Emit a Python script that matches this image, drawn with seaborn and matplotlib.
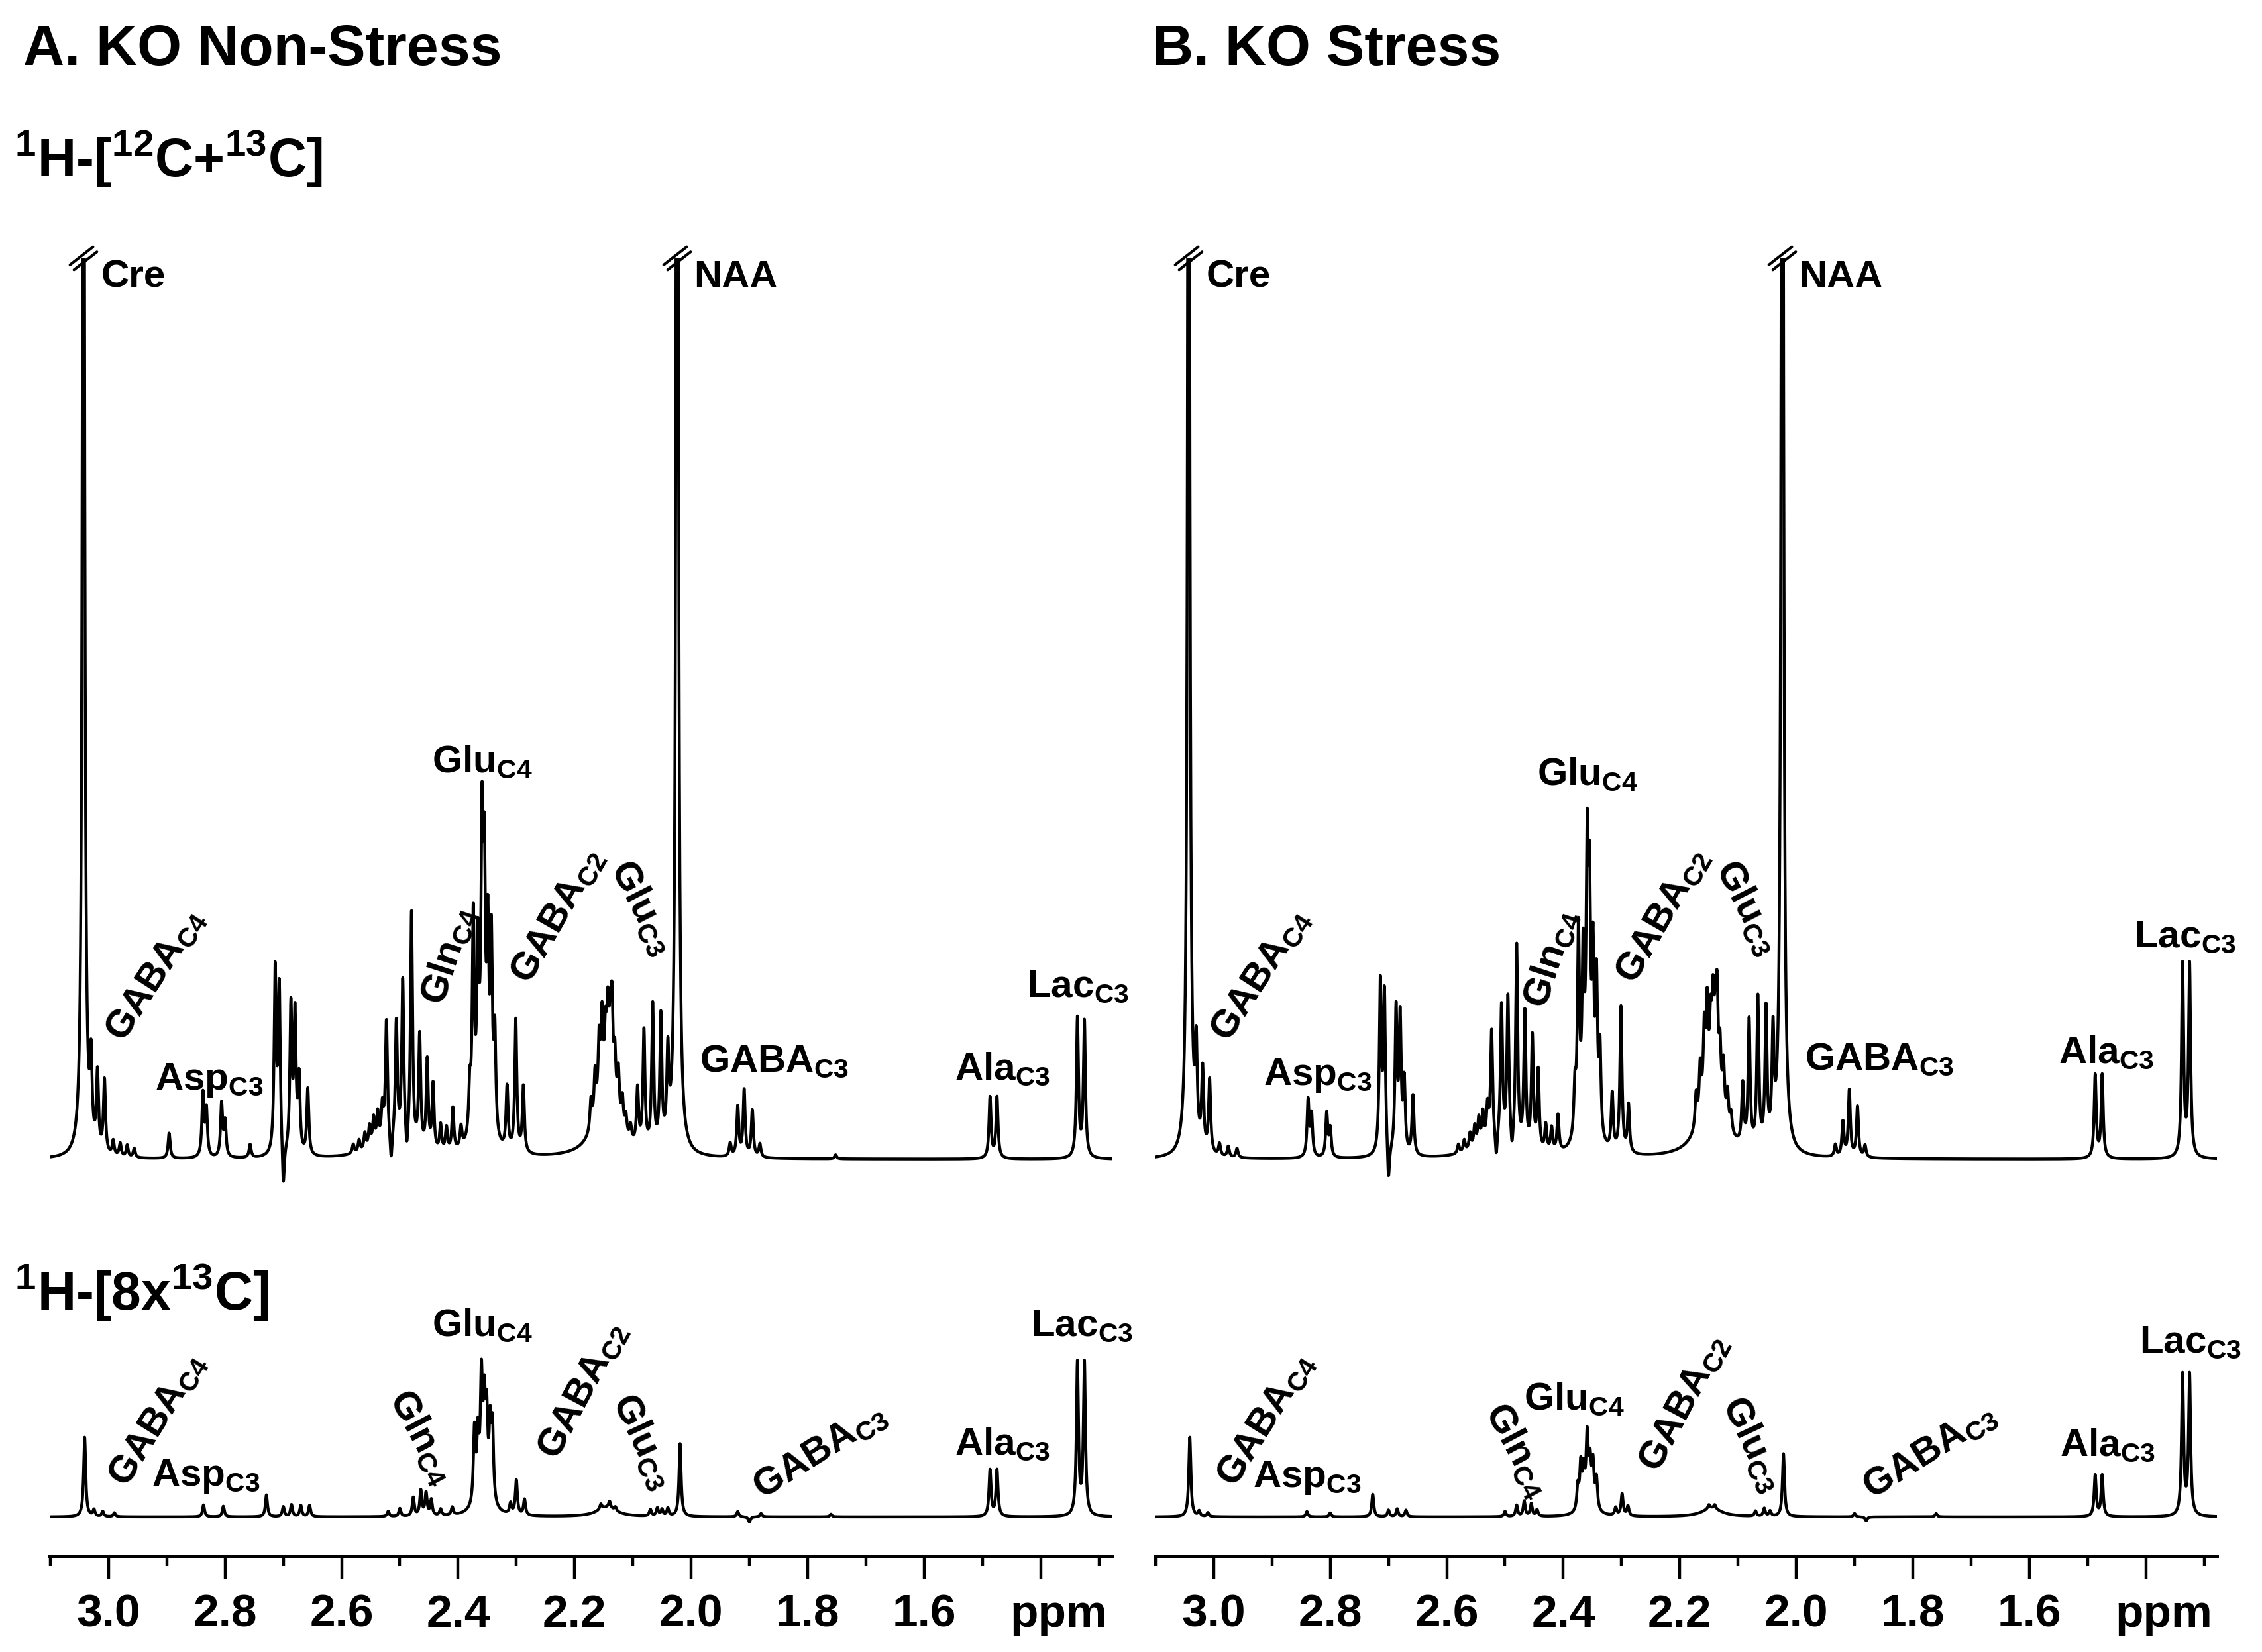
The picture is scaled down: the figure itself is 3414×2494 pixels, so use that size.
import numpy as np
import matplotlib
matplotlib.use("Agg")
import matplotlib.pyplot as plt
import seaborn as sns
from matplotlib.lines import Line2D
from matplotlib.ticker import FixedLocator, FixedFormatter, MultipleLocator
from matplotlib.transforms import ScaledTranslation

sns.set_theme(style="white")
plt.rcParams['font.family'] = ['Liberation Sans', 'DejaVu Sans']
plt.rcParams['font.weight'] = 'bold'
plt.rcParams['text.color'] = 'black'
plt.rcParams['xtick.color'] = 'black'
plt.rcParams['mathtext.fontset'] = 'custom'
for k in ('rm', 'it', 'bf', 'sf'):
    plt.rcParams['mathtext.' + k] = 'Liberation Sans:bold'
plt.rcParams['mathtext.default'] = 'rm'

# ---- peak lists (ppm, intensity in a.u.) ----
sharp_w = 0.0021  # half width of a single line, ppm

ns_total_ppm = [3.043, 3.030, 3.019, 3.007, 2.992, 2.980, 2.968, 2.956, 2.896, 2.838, 2.832, 2.806, 2.800, 2.757,
                2.714, 2.707, 2.700, 2.687, 2.680, 2.673, 2.658,
                2.580, 2.570, 2.560, 2.552, 2.545, 2.538, 2.530, 2.523, 2.515, 2.506, 2.495, 2.488, 2.480, 2.466,
                2.453, 2.443, 2.430, 2.420, 2.409, 2.395,
                2.380, 2.374, 2.366, 2.359, 2.355, 2.349, 2.343, 2.337,
                2.316, 2.301, 2.288,
                2.172, 2.165, 2.158, 2.153, 2.147, 2.143, 2.139, 2.136, 2.131, 2.125, 2.118, 2.112, 2.104,
                2.092, 2.081, 2.066, 2.052, 2.040,
                2.024,
                1.933, 1.920, 1.909, 1.895, 1.882,
                1.752,
                1.487, 1.475,
                1.337, 1.325]
ns_total_h = [2200, 120, 115, 110, 22, 20, 18, 14, 38, 95, 70, 80, 52, 20,
              275, 250, -70, 220, 205, 110, 100,
              14, 18, 25, 32, 40, 45, 50, 180, -45, 180, 245, -35, 355, 170,
              135, 100, 40, 36, 65, 32,
              70, 320, 240, 390, 330, 270, 280, 150,
              95, 200, 100,
              45, 70, 100, 120, 85, 110, 85, 130, 75, 70, 45, 28, 22,
              85, 175, 215, 195, 130,
              2500,
              20, 75, 100, 70, 20,
              6,
              92, 92,
              210, 205]
ns_total_broad = [(2.145, 90, 0.022), (2.52, 22, 0.035), (2.36, 60, 0.012)]

ns_13c_ppm = [3.041, 3.025, 3.010, 2.990, 2.837, 2.803, 2.729, 2.700, 2.686, 2.670, 2.655,
              2.520, 2.500, 2.477, 2.464, 2.455, 2.446, 2.430, 2.410,
              2.372, 2.366, 2.360, 2.355, 2.351, 2.345, 2.341,
              2.310, 2.300, 2.286,
              2.155, 2.140, 2.130,
              2.070, 2.058, 2.050, 2.040,
              2.019,
              1.920, 1.900, 1.880,
              1.760,
              1.487, 1.475,
              1.337, 1.325]
ns_13c_h = [120, 10, 8, 6, 18, 16, 33, 15, 18, 17, 17,
            8, 12, 28, 38, 34, 24, 10, 12,
            110, 90, 165, 120, 110, 105, 110,
            16, 52, 24,
            8, 10, 6,
            10, 12, 10, 12,
            110,
            8, -8, 5,
            4,
            70, 70,
            230, 230]
ns_13c_broad = [(2.145, 14, 0.02), (2.357, 35, 0.012)]

st_total_ppm = [3.043, 3.030, 3.019, 3.007, 2.990, 2.975, 2.960, 2.838, 2.832, 2.806, 2.800,
                2.714, 2.707, 2.700, 2.687, 2.680, 2.673, 2.658,
                2.580, 2.570, 2.560, 2.552, 2.545, 2.538, 2.530, 2.523, 2.515, 2.506, 2.495, 2.488, 2.480, 2.466,
                2.453, 2.443, 2.430, 2.420, 2.409,
                2.380, 2.374, 2.366, 2.359, 2.355, 2.349, 2.343, 2.337,
                2.316, 2.301, 2.288,
                2.172, 2.165, 2.158, 2.153, 2.147, 2.143, 2.139, 2.136, 2.131, 2.125, 2.118, 2.112,
                2.092, 2.081, 2.066, 2.052, 2.040,
                2.024,
                1.933, 1.920, 1.909, 1.895, 1.882,
                1.487, 1.475,
                1.337, 1.325]
st_total_h = [2200, 140, 120, 110, 18, 16, 14, 85, 62, 66, 42,
              255, 240, -60, 215, 200, 105, 90,
              14, 18, 25, 32, 40, 45, 50, 165, -40, 205, 220, -30, 305, 205,
              170, 120, 40, 36, 55,
              70, 300, 230, 360, 300, 240, 220, 130,
              85, 220, 72,
              50, 75, 110, 130, 90, 115, 90, 135, 80, 75, 50, 28,
              90, 190, 225, 205, 160,
              2500,
              18, 52, 100, 76, 18,
              125, 125,
              290, 290]
st_total_broad = [(2.145, 100, 0.022), (2.52, 22, 0.035), (2.36, 60, 0.012)]

st_13c_ppm = [3.041, 3.025, 3.010, 2.840, 2.800, 2.727, 2.700, 2.685, 2.670,
              2.500, 2.480, 2.467, 2.455, 2.445,
              2.375, 2.370, 2.365, 2.359, 2.354, 2.349, 2.343,
              2.310, 2.299, 2.289,
              2.150, 2.140,
              2.070, 2.055, 2.045,
              2.022,
              1.900, 1.880,
              1.760,
              1.487, 1.475,
              1.337, 1.325]
st_13c_h = [120, 8, 6, 8, 6, 34, 10, 12, 10,
            8, 17, 23, 19, 10,
            35, 65, 50, 95, 55, 62, 45,
            12, 33, 15,
            6, 6,
            8, 12, 8,
            95,
            5, -6,
            5,
            62, 62,
            212, 212]
st_13c_broad = [(2.145, 13, 0.02), (2.357, 22, 0.01)]

# ---- peak labels ----
top_names = ['Cre', 'NAA', 'GABA$_{C4}$', 'Asp$_{C3}$', 'Gln$_{C4}$', 'Glu$_{C4}$',
             'GABA$_{C2}$', 'Glu$_{C3}$', 'GABA$_{C3}$', 'Ala$_{C3}$', 'Lac$_{C3}$']
top_rot = [0, 0, 57, 0, 72, 0, 60, -63, 0, 0, 0]
ns_top_lab_ppm = [3.0125, 1.995, 2.975, 2.920, 2.426, 2.445, 2.278, 2.139, 1.985, 1.547, 1.423]
ns_top_lab_h = [1316, 1316, 175, 105, 230, 584, 262, 440, 132, 120, 245]
st_top_lab_ppm = [3.0125, 1.995, 2.975, 2.915, 2.430, 2.445, 2.278, 2.139, 1.985, 1.550, 1.420]
st_top_lab_h = [1316, 1316, 175, 112, 225, 565, 262, 440, 135, 145, 320]

bot_names = ['GABA$_{C4}$', 'Asp$_{C3}$', 'Gln$_{C4}$', 'Glu$_{C4}$', 'GABA$_{C2}$',
             'Glu$_{C3}$', 'GABA$_{C3}$', 'Ala$_{C3}$', 'Lac$_{C3}$']
bot_rot = [58, 0, -62, 0, 62, -65, 32, 0, 0]
ns_bot_lab_ppm = [2.969, 2.926, 2.519, 2.445, 2.231, 2.135, 1.878, 1.547, 1.417]
ns_bot_lab_h = [43, 47, 180, 273, 84, 176, 26, 94, 273]
st_bot_lab_ppm = [2.964, 2.933, 2.535, 2.467, 2.238, 2.128, 1.870, 1.548, 1.411]
st_bot_lab_h = [43, 45, 160, 162, 65, 172, 26, 92, 248]

tick_ppm = [3.0, 2.8, 2.6, 2.4, 2.2, 2.0, 1.8, 1.6, 1.4]
tick_text = ['3.0', '2.8', '2.6', '2.4', '2.2', '2.0', '1.8', '1.6', '']
clipped_ppm = [3.043, 2.024]  # Cre and NAA run off the top

ppm = np.linspace(3.101, 1.278, 9200)


def spectrum(pos, height, broad):
    y = np.zeros_like(ppm)
    for p, h in zip(pos, height):
        y += h / (1 + ((ppm - p) / sharp_w) ** 2)
    for p, h, w in broad:
        y += h / (1 + ((ppm - p) / w) ** 2)
    return y


fig = plt.figure(figsize=(3414 / 200, 2494 / 200), dpi=200)


def break_mark(ax, x, y):
    t = fig.dpi_scale_trans + ScaledTranslation(x, y, ax.transData)
    a = np.deg2rad(38)
    dx, dy = 0.11 * np.cos(a), 0.11 * np.sin(a)
    nx, ny = -np.sin(a) * 0.024, np.cos(a) * 0.024
    for s in (-1, 1):
        ax.add_line(Line2D([-dx + s * nx, dx + s * nx], [-dy + s * ny, dy + s * ny],
                           transform=t, color='black', lw=1.5, clip_on=False))


def add_labels(ax, names, xs, ys, rots):
    for n, x, y, r in zip(names, xs, ys, rots):
        ax.text(x, y, n, fontsize=21, fontweight='bold', rotation=r,
                rotation_mode='anchor', ha='left', va='baseline')


columns = [
    (75 / 3414, (ns_total_ppm, ns_total_h, ns_total_broad), (ns_13c_ppm, ns_13c_h, ns_13c_broad),
     ns_top_lab_ppm, ns_top_lab_h, ns_bot_lab_ppm, ns_bot_lab_h),
    (1743 / 3414, (st_total_ppm, st_total_h, st_total_broad), (st_13c_ppm, st_13c_h, st_13c_broad),
     st_top_lab_ppm, st_top_lab_h, st_bot_lab_ppm, st_bot_lab_h),
]
col_w = 1603 / 3414

for x0, top_data, bot_data, tlx, tly, blx, bly in columns:
    ax_top = fig.add_axes([x0, 0.27426, col_w, 0.56937])
    ax_bot = fig.add_axes([x0, 0.05814, col_w, 0.14394])

    sns.lineplot(x=ppm, y=spectrum(*top_data), ax=ax_top, color='black', linewidth=1.6,
                 sort=False, estimator=None)
    sns.lineplot(x=ppm, y=spectrum(*bot_data), ax=ax_bot, color='black', linewidth=1.6,
                 sort=False, estimator=None)

    for cp in clipped_ppm:
        break_mark(ax_top, cp, 1360)

    ax_top.set_xlim(3.101, 1.278)
    ax_top.set_ylim(-60, 1360)
    ax_bot.set_xlim(3.101, 1.278)
    ax_bot.set_ylim(-59, 300)

    ax_top.set_axis_off()
    for s in ('left', 'right', 'top'):
        ax_bot.spines[s].set_visible(False)
    ax_bot.spines['bottom'].set_color('black')
    ax_bot.spines['bottom'].set_linewidth(1.8)
    ax_bot.set_yticks([])
    ax_bot.set_ylabel('')
    ax_bot.xaxis.set_major_locator(FixedLocator(tick_ppm))
    ax_bot.xaxis.set_major_formatter(FixedFormatter(tick_text))
    ax_bot.xaxis.set_minor_locator(MultipleLocator(0.1))
    ax_bot.tick_params(axis='x', which='major', bottom=True, direction='out', length=12.5,
                       width=1.6, pad=8, labelsize=25, colors='black')
    ax_bot.tick_params(axis='x', which='minor', bottom=True, direction='out', length=5.5,
                       width=1.6, colors='black')
    for lab in ax_bot.get_xticklabels():
        lab.set_fontweight('bold')
    ax_bot.annotate('ppm', xy=(1.369, 0), xycoords=('data', 'axes fraction'),
                    xytext=(0, -20.5), textcoords='offset points', ha='center', va='top',
                    fontsize=25, fontweight='bold')

    add_labels(ax_top, top_names, tlx, tly, top_rot)
    add_labels(ax_bot, bot_names, blx, bly, bot_rot)

fig.text(35 / 3414, 1 - 98 / 2494, 'A. KO Non-Stress', fontsize=31, fontweight='bold', va='baseline')
fig.text(1739 / 3414, 1 - 98 / 2494, 'B. KO Stress', fontsize=31, fontweight='bold', va='baseline')
fig.text(22 / 3414, 1 - 266 / 2494, r'$^{1}$H-[$^{12}$C+$^{13}$C]', fontsize=29, fontweight='bold',
         va='baseline')
fig.text(22 / 3414, 1 - 1977 / 2494, r'$^{1}$H-[8x$^{13}$C]', fontsize=29, fontweight='bold',
         va='baseline')

fig.savefig('out.png', dpi=200)
